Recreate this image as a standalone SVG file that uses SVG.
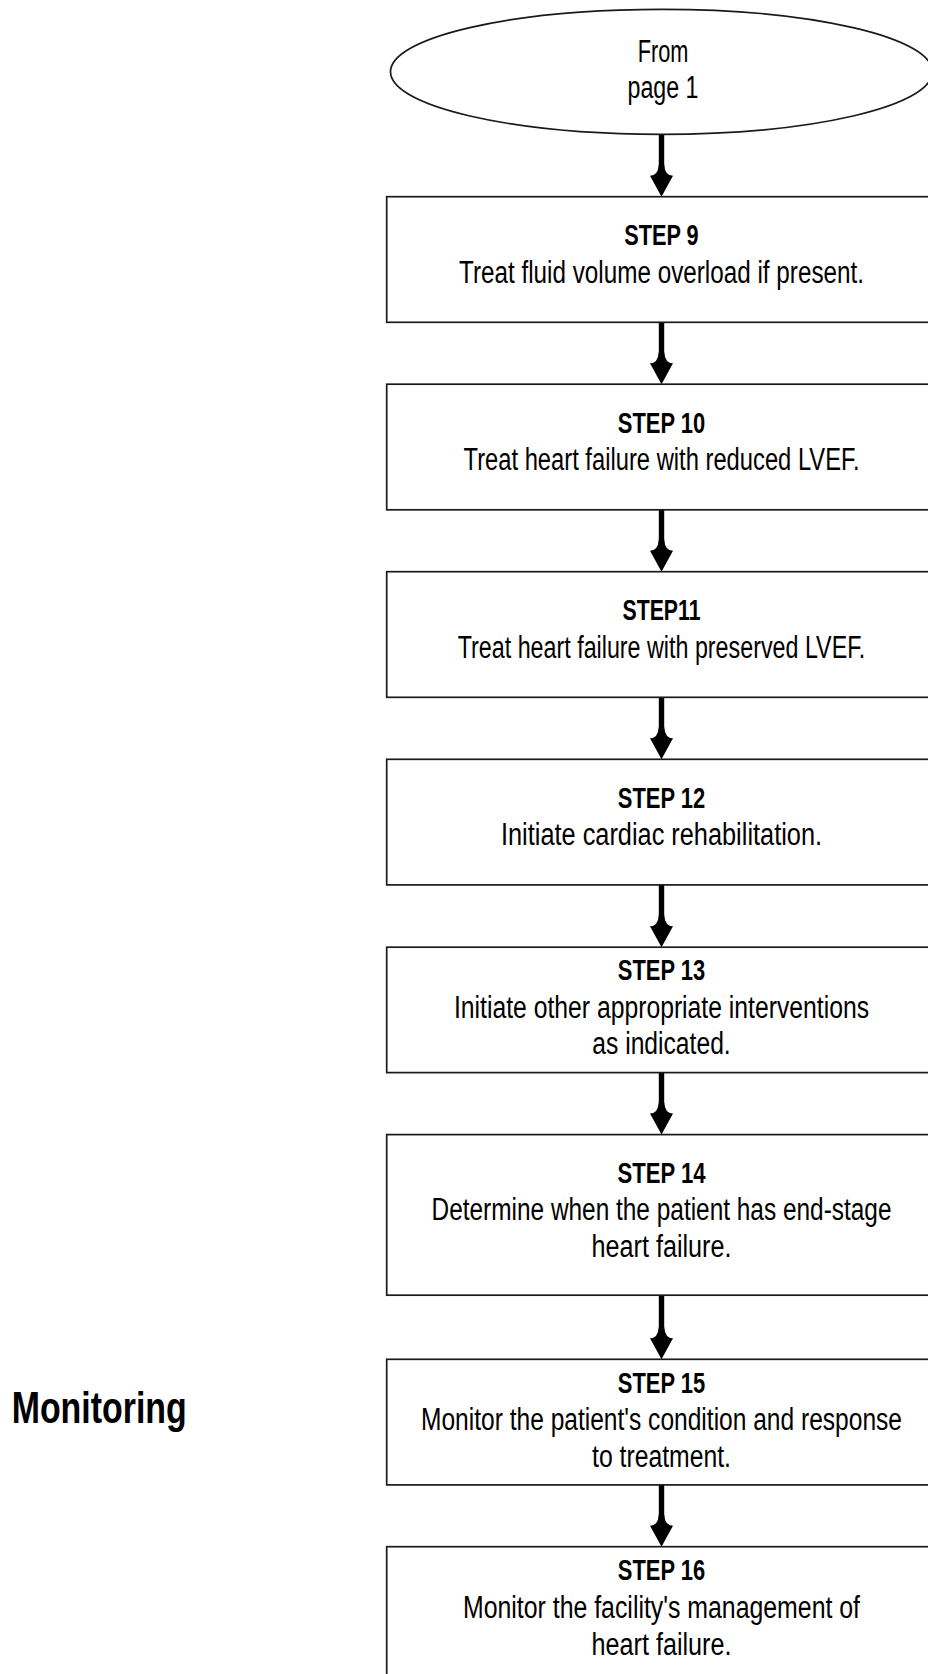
<svg xmlns="http://www.w3.org/2000/svg" xmlns:xlink="http://www.w3.org/1999/xlink" width="928" height="1674" viewBox="0 0 928 1674">
<style>
  .box { fill: #ffffff; stroke: #1a1a1a; stroke-width: 1.7; }
  .t { font-family: "Liberation Sans", Arial, sans-serif; font-size: 31px; fill: #000; text-anchor: middle; }
  .b { font-weight: bold; font-size: 29.5px; }
  .shaft { stroke: #000; stroke-width: 5.4; fill: none; }
  .head { fill: #000; }
  .side { font-family: "Liberation Sans", Arial, sans-serif; font-size: 45px; font-weight: bold; fill: #000; }
</style>
<defs>
  <path id="ah" class="head" d="M0,0 L-11.5,-21 Q-3.5,-21 -2.7,-32 L2.7,-32 Q3.5,-21 11.5,-21 Z"/>
</defs>
<rect x="0" y="0" width="928" height="1674" fill="#ffffff"/>

<g id="connectors">
  <line class="shaft" x1="661.5" y1="134.3" x2="661.5" y2="172"/>
  <use xlink:href="#ah" href="#ah" transform="translate(661.5,196.7)"/>
  <line class="shaft" x1="661.5" y1="322.3" x2="661.5" y2="360"/>
  <use xlink:href="#ah" href="#ah" transform="translate(661.5,384.2)"/>
  <line class="shaft" x1="661.5" y1="509.8" x2="661.5" y2="547"/>
  <use xlink:href="#ah" href="#ah" transform="translate(661.5,571.7)"/>
  <line class="shaft" x1="661.5" y1="697.3" x2="661.5" y2="735"/>
  <use xlink:href="#ah" href="#ah" transform="translate(661.5,759.3)"/>
  <line class="shaft" x1="661.5" y1="884.9" x2="661.5" y2="922"/>
  <use xlink:href="#ah" href="#ah" transform="translate(661.5,947.2)"/>
  <line class="shaft" x1="661.5" y1="1072.6" x2="661.5" y2="1110"/>
  <use xlink:href="#ah" href="#ah" transform="translate(661.5,1134.6)"/>
  <line class="shaft" x1="661.5" y1="1295.2" x2="661.5" y2="1335"/>
  <use xlink:href="#ah" href="#ah" transform="translate(661.5,1359.3)"/>
  <line class="shaft" x1="661.5" y1="1484.9" x2="661.5" y2="1522"/>
  <use xlink:href="#ah" href="#ah" transform="translate(661.5,1546.7)"/>
</g>

<g id="start">
  <ellipse class="box" cx="661.5" cy="71.8" rx="271" ry="62.5"/>
  <text class="t" x="663" y="61.7" textLength="50.7" lengthAdjust="spacingAndGlyphs">From</text>
  <text class="t" x="663" y="98.3" textLength="71" lengthAdjust="spacingAndGlyphs">page 1</text>
</g>

<g id="step9">
  <rect class="box" x="386.7" y="196.7" width="560" height="125.6"/>
  <text class="t b" x="661.5" y="245" textLength="74.4" lengthAdjust="spacingAndGlyphs">STEP 9</text>
  <text class="t" x="661.5" y="282.5" textLength="405" lengthAdjust="spacingAndGlyphs">Treat fluid volume overload if present.</text>
</g>

<g id="step10">
  <rect class="box" x="386.7" y="384.2" width="560" height="125.6"/>
  <text class="t b" x="661.5" y="432.5" textLength="87.4" lengthAdjust="spacingAndGlyphs">STEP 10</text>
  <text class="t" x="661.5" y="470" textLength="396" lengthAdjust="spacingAndGlyphs">Treat heart failure with reduced LVEF.</text>
</g>

<g id="step11">
  <rect class="box" x="386.7" y="571.7" width="560" height="125.6"/>
  <text class="t b" x="661.5" y="620" textLength="78" lengthAdjust="spacingAndGlyphs">STEP11</text>
  <text class="t" x="661.5" y="657.5" textLength="407.6" lengthAdjust="spacingAndGlyphs">Treat heart failure with preserved LVEF.</text>
</g>

<g id="step12">
  <rect class="box" x="386.7" y="759.3" width="560" height="125.6"/>
  <text class="t b" x="661.5" y="807.5" textLength="87.4" lengthAdjust="spacingAndGlyphs">STEP 12</text>
  <text class="t" x="661.5" y="845" textLength="321" lengthAdjust="spacingAndGlyphs">Initiate cardiac rehabilitation.</text>
</g>

<g id="step13">
  <rect class="box" x="386.7" y="947.2" width="560" height="125.4"/>
  <text class="t b" x="661.5" y="980" textLength="87.4" lengthAdjust="spacingAndGlyphs">STEP 13</text>
  <text class="t" x="661.5" y="1018" textLength="415" lengthAdjust="spacingAndGlyphs">Initiate other appropriate interventions</text>
  <text class="t" x="661.5" y="1053.5" textLength="138.4" lengthAdjust="spacingAndGlyphs">as indicated.</text>
</g>

<g id="step14">
  <rect class="box" x="386.7" y="1134.6" width="560" height="160.6"/>
  <text class="t b" x="661.5" y="1183" textLength="88" lengthAdjust="spacingAndGlyphs">STEP 14</text>
  <text class="t" x="661.5" y="1220" textLength="460" lengthAdjust="spacingAndGlyphs">Determine when the patient has end-stage</text>
  <text class="t" x="661.5" y="1257" textLength="140" lengthAdjust="spacingAndGlyphs">heart failure.</text>
</g>

<g id="step15">
  <rect class="box" x="386.7" y="1359.3" width="560" height="125.6"/>
  <text class="t b" x="661.5" y="1392.5" textLength="87.4" lengthAdjust="spacingAndGlyphs">STEP 15</text>
  <text class="t" x="661.5" y="1430" textLength="481" lengthAdjust="spacingAndGlyphs">Monitor the patient's condition and response</text>
  <text class="t" x="661.5" y="1466.5" textLength="139" lengthAdjust="spacingAndGlyphs">to treatment.</text>
</g>

<g id="step16">
  <rect class="box" x="386.7" y="1546.7" width="560" height="160"/>
  <text class="t b" x="661.5" y="1580" textLength="87.4" lengthAdjust="spacingAndGlyphs">STEP 16</text>
  <text class="t" x="661.5" y="1617.5" textLength="397" lengthAdjust="spacingAndGlyphs">Monitor the facility's management of</text>
  <text class="t" x="661.5" y="1654.5" textLength="140" lengthAdjust="spacingAndGlyphs">heart failure.</text>
</g>

<g id="monitoring-label">
  <text class="side" x="11.7" y="1423.3" textLength="175" lengthAdjust="spacingAndGlyphs">Monitoring</text>
</g>
</svg>
